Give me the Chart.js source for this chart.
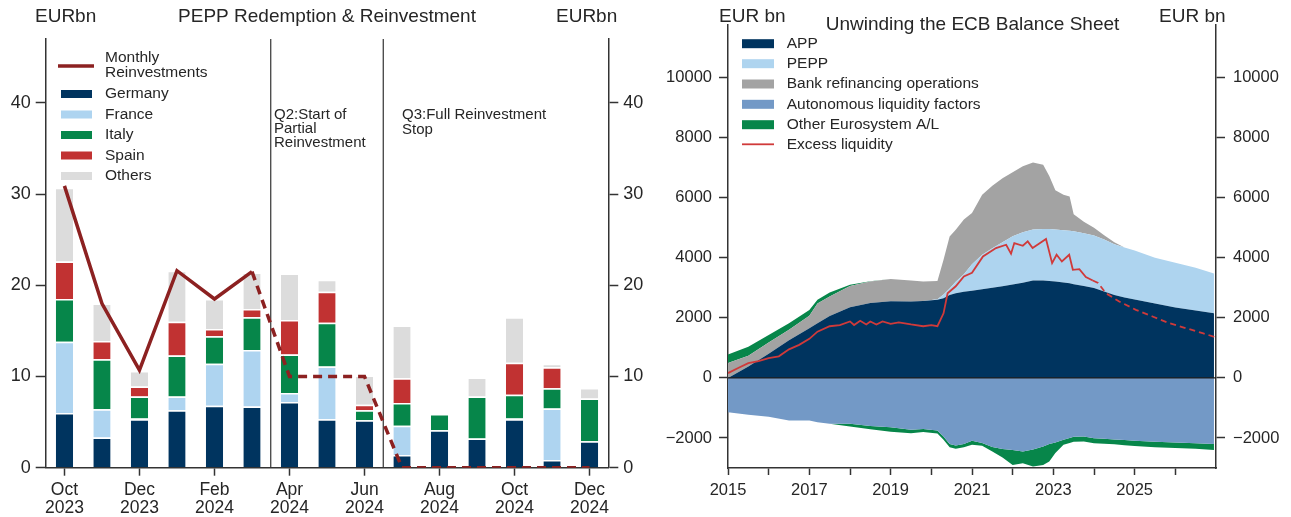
<!DOCTYPE html>
<html><head><meta charset="utf-8">
<script src="https://cdn.jsdelivr.net/npm/chart.js@4.4.1/dist/chart.umd.min.js"></script>
<style>
html,body{margin:0;padding:0;background:#fff;width:1291px;height:517px;overflow:hidden}
#l{position:absolute;left:0;top:0}
#r{position:absolute;left:645px;top:0}
</style></head><body>
<canvas id="l" width="645" height="517"></canvas>
<canvas id="r" width="646" height="517"></canvas>
<script>
// ---------- Left panel data: PEPP redemptions (EUR bn) ----------
const months = ['Oct 2023','Nov 2023','Dec 2023','Jan 2024','Feb 2024','Mar 2024','Apr 2024','May 2024','Jun 2024','Jul 2024','Aug 2024','Sep 2024','Oct 2024','Nov 2024','Dec 2024'];
const germany = [6.0,3.3,5.3,6.3,6.8,6.7,7.2,5.3,5.2,1.4,4.1,3.2,5.3,0.85,2.9];
const france  = [7.8,3.1,0.1,1.5,4.6,6.2,1.0,5.8,0.0,3.2,0.0,0.0,0.1,5.65,0.0];
const italy   = [4.7,5.5,2.4,4.5,3.0,3.6,4.2,4.8,1.1,2.5,1.8,4.6,2.6,2.2,4.7];
const spain   = [4.1,2.0,1.1,3.7,0.8,0.9,3.8,3.4,0.6,2.7,0.0,0.0,3.5,2.3,0.0];
const others  = [8.1,4.1,1.7,5.6,3.3,4.0,5.1,1.3,3.2,5.8,0.0,2.1,5.0,0.4,1.15];
const reinvest = [30.9,18.0,10.7,21.6,18.5,21.5,10,10,10,0,0,0,0,0,0];
const reinvestDashFrom = 5; // dashed (planned) from Mar 2024 onwards
const leftTicks = [0,10,20,30,40];

// ---------- Right panel data: ECB balance sheet (EUR bn) ----------
const bsDates = [2015.0,2015.5,2016.0,2016.5,2017.0,2017.2,2017.5,2018.0,2018.5,2019.0,2019.5,2019.8,2020.15,2020.3,2020.45,2020.6,2020.8,2021.0,2021.25,2021.5,2021.75,2022.0,2022.25,2022.5,2022.75,2022.9,2023.05,2023.25,2023.4,2023.5,2023.75,2024.0,2024.25,2024.5,2024.75,2025.0,2025.5,2026.0,2026.5,2026.95];
const app = [0,380,800,1250,1650,1820,2060,2350,2490,2550,2540,2560,2600,2650,2760,2820,2870,2900,2950,3000,3050,3110,3170,3240,3240,3230,3210,3180,3150,3120,3060,2990,2880,2760,2680,2610,2480,2340,2240,2150];
const pepp = [0,0,0,0,0,0,0,0,0,0,0,0,20,130,220,380,580,880,1150,1320,1470,1610,1680,1700,1720,1725,1730,1740,1750,1760,1760,1750,1730,1690,1660,1630,1520,1490,1430,1330];
const refi = [500,360,380,350,420,660,650,710,720,740,700,650,610,1150,1730,1730,1820,1710,2000,2080,2130,2130,2200,2230,2140,1765,1310,1180,1140,570,380,260,140,70,0,0,0,0,0,0];
const otherPos = [280,300,250,220,190,120,130,40,10,0,0,0,0,0,0,0,0,0,0,0,0,0,0,0,0,0,0,0,0,0,0,0,0,0,0,0,0,0,0,0];
const autonomous = [-1140,-1230,-1290,-1420,-1420,-1480,-1530,-1530,-1600,-1640,-1730,-1700,-1750,-1950,-2200,-2250,-2200,-2090,-2170,-2300,-2370,-2400,-2450,-2380,-2280,-2200,-2150,-2060,-2000,-1960,-1950,-2010,-2030,-2050,-2070,-2090,-2130,-2155,-2180,-2200];
const otherNeg = [0,0,0,0,0,0,0,-90,-110,-150,-110,-100,-100,-110,-110,-110,-110,-140,-90,-150,-280,-500,-390,-570,-620,-580,-350,-170,-170,-170,-170,-170,-160,-160,-170,-180,-180,-180,-180,-200];
const elDates = [2015.0,2015.25,2015.5,2015.75,2016.0,2016.25,2016.5,2016.75,2017.0,2017.2,2017.5,2017.75,2018.0,2018.1,2018.25,2018.4,2018.5,2018.65,2018.8,2019.0,2019.2,2019.5,2019.8,2020.0,2020.15,2020.3,2020.4,2020.6,2020.8,2021.0,2021.27,2021.59,2021.84,2021.96,2022.04,2022.25,2022.37,2022.49,2022.82,2022.97,2023.08,2023.21,2023.39,2023.48,2023.64,2023.8,2023.97,2024.1,2024.29,2024.62,2025.03,2025.44,2025.85,2026.26,2026.67,2026.99];
const excessLiq = [160,330,490,560,660,720,950,1100,1300,1540,1720,1760,1880,1760,1900,1780,1880,1780,1880,1800,1850,1780,1720,1760,1720,2150,2820,3050,3380,3500,4044,4322,4433,4133,4489,4400,4544,4322,4622,3822,4100,3877,4100,3600,3622,3355,3244,3160,2822,2544,2266,2044,1822,1655,1489,1355];
const elForecastFrom = 2023.95;
const rTicks = [-2000,0,2000,4000,6000,8000,10000];
const yearTicks = [2015,2016,2017,2018,2019,2020,2021,2022,2023,2024,2025,2026];
const yearLabels = [2015,2017,2019,2021,2023,2025];

// ---------- styling ----------
const FONT = "'Liberation Sans', Arial, Helvetica, sans-serif";
const TXT = '#262626';
const AX = '#333';
const C = {
  germany:'#00345f', france:'#aed4f0', italy:'#06864a', spain:'#c13232', others:'#dcdcdc', reinvest:'#8c2121',
  app:'#00345f', pepp:'#aed4ef', refi:'#a3a3a3', auton:'#7399c6', other:'#07864a', excess:'#d03a3a'
};
Chart.defaults.font.family = FONT;
Chart.defaults.color = TXT;

function txt(ctx, s, x, y, size, align) {
  ctx.save();
  ctx.font = size + 'px ' + FONT;
  ctx.fillStyle = TXT;
  ctx.textAlign = align || 'left';
  ctx.textBaseline = 'middle';
  ctx.fillText(s, x, y);
  ctx.restore();
}
const setTicks = list => (s => { s.ticks = list.map(v => ({value: v})); });

// ---------- left chart ----------
const leftOverlay = {
  id: 'leftOverlay',
  beforeDatasetsDraw(chart) {
    const {ctx, chartArea, scales:{x}} = chart;
    ctx.save();
    ctx.strokeStyle = AX; ctx.lineWidth = 1.2;
    [5.5, 8.5].forEach(v => {
      const px = (x.getPixelForValue(Math.floor(v)) + x.getPixelForValue(Math.ceil(v))) / 2;
      ctx.beginPath(); ctx.moveTo(px, chartArea.top); ctx.lineTo(px, chartArea.bottom); ctx.stroke();
    });
    ctx.restore();
  },
  afterDraw(chart) {
    const ctx = chart.ctx;
    txt(ctx, 'EURbn', 35, 17, 19);
    txt(ctx, 'PEPP Redemption & Reinvestment', 327, 17, 19, 'center');
    txt(ctx, 'EURbn', 556, 17, 19);
    txt(ctx, 'Q2:Start of', 274, 115, 15);
    txt(ctx, 'Partial', 274, 129, 15);
    txt(ctx, 'Reinvestment', 274, 143, 15);
    txt(ctx, 'Q3:Full Reinvestment', 402, 115, 15);
    txt(ctx, 'Stop', 402, 130, 15);
    ctx.save();
    ctx.strokeStyle = C.reinvest; ctx.lineWidth = 3.5;
    ctx.beginPath(); ctx.moveTo(58, 66); ctx.lineTo(94, 66); ctx.stroke();
    ctx.restore();
    txt(ctx, 'Monthly', 105, 58, 15.5);
    txt(ctx, 'Reinvestments', 105, 73, 15.5);
    const items = [['Germany',C.germany,94],['France',C.france,114.5],['Italy',C.italy,135],['Spain',C.spain,155.5],['Others',C.others,176]];
    items.forEach(([l,c,y]) => {
      ctx.fillStyle = c; ctx.fillRect(61, y-4, 31, 8);
      txt(ctx, l, 105, y, 15.5);
    });
  }
};

function barDs(label, data, color) {
  return {type:'bar', label, data, backgroundColor: color, borderColor:'#ffffff',
    borderWidth:{top:1.5,left:0,right:0,bottom:0}, borderSkipped:'start',
    barPercentage:0.46, categoryPercentage:1.0, stack:'bars', order:1};
}
const axisCommon = (tl) => ({
  grid:{display:true, drawOnChartArea:false, drawTicks:true, tickLength:tl, tickColor:AX, tickWidth:1.5},
  border:{display:true, color:AX, width:1.5}
});

new Chart(document.getElementById('l'), {
  type:'bar',
  data:{
    labels: months,
    datasets:[
      {type:'line', label:'Monthly Reinvestments', data: reinvest, borderColor:C.reinvest, backgroundColor:C.reinvest,
       borderWidth:3.5, pointRadius:0, fill:false, tension:0, order:-1, stack:'line',
       segment:{borderDash: c => c.p0DataIndex >= reinvestDashFrom ? [9,6] : undefined}},
      barDs('Germany', germany, C.germany),
      barDs('France', france, C.france),
      barDs('Italy', italy, C.italy),
      barDs('Spain', spain, C.spain),
      barDs('Others', others, C.others)
    ]
  },
  options:{
    responsive:false, animation:false, devicePixelRatio:1,
    layout:{padding:{top:39,left:0,right:0,bottom:0}},
    plugins:{legend:{display:false}, tooltip:{enabled:false}},
    scales:{
      x:{stacked:true, offset:true, ...axisCommon(8),
         grid:{display:true, offset:false, drawOnChartArea:false, tickLength:8, tickColor:AX, tickWidth:1.5},
         ticks:{autoSkip:false, maxRotation:0, minRotation:0, padding:6, color:TXT, font:{size:17.5, lineHeight:1.0},
                callback:(v,i) => i % 2 === 0 ? months[i].split(' ') : null},
         afterFit:s => { s.height = 49.3; }},
      y:{stacked:true, min:0, max:47, position:'left', ...axisCommon(10),
         afterBuildTicks: setTicks(leftTicks),
         ticks:{autoSkip:false, padding:5, color:TXT, font:{size:18}, callback:v => String(v)},
         afterFit:s => { s.width = 45.7; }},
      y2:{min:0, max:47, position:'right', ...axisCommon(10),
         afterBuildTicks: setTicks(leftTicks),
         ticks:{autoSkip:false, padding:5, color:TXT, font:{size:18}, callback:v => String(v)},
         afterFit:s => { s.width = 36.7; }}
    }
  },
  plugins:[leftOverlay]
});

// ---------- right chart ----------
const fmt = v => (v < 0 ? '\u2212' + Math.abs(v) : String(v));
const rightOverlay = {
  id:'rightOverlay',
  afterDatasetsDraw(chart) {
    const {ctx, chartArea, scales:{y}} = chart;
    const py = y.getPixelForValue(0);
    ctx.save(); ctx.strokeStyle = '#1e1e1e'; ctx.lineWidth = 1.2;
    ctx.beginPath(); ctx.moveTo(chartArea.left, py); ctx.lineTo(chartArea.right, py); ctx.stroke();
    ctx.restore();
  },
  afterDraw(chart) {
    const ctx = chart.ctx;
    txt(ctx, 'EUR bn', 74, 17, 19);
    txt(ctx, 'Unwinding the ECB Balance Sheet', 327.5, 25, 19, 'center');
    txt(ctx, 'EUR bn', 514, 17, 19);
    const items = [['APP',C.app,43.7],['PEPP',C.pepp,63.7],['Bank refinancing operations',C.refi,84],['Autonomous liquidity factors',C.auton,104.3],['Other Eurosystem A/L',C.other,124.7]];
    items.forEach(([l,c,yy]) => {
      ctx.fillStyle = c; ctx.fillRect(97, yy-4.5, 32, 9);
      txt(ctx, l, 141.7, yy, 15.5);
    });
    ctx.save(); ctx.strokeStyle = C.excess; ctx.lineWidth = 1.8;
    ctx.beginPath(); ctx.moveTo(97, 144.3); ctx.lineTo(129, 144.3); ctx.stroke(); ctx.restore();
    txt(ctx, 'Excess liquidity', 141.7, 144.3, 15.5);
  }
};
const pts = arr => bsDates.map((d,i) => ({x:d, y:arr[i]}));
const area = (label, arr, color, fill, stack) => ({label, data:pts(arr), backgroundColor:color, borderColor:color,
  borderWidth:0, pointRadius:0, tension:0, fill, stack});

new Chart(document.getElementById('r'), {
  type:'line',
  data:{
    datasets:[
      area('APP', app, C.app, 'origin', 'pos'),
      area('PEPP', pepp, C.pepp, '-1', 'pos'),
      area('Bank refinancing operations', refi, C.refi, '-1', 'pos'),
      area('Other Eurosystem A/L', otherPos, C.other, '-1', 'pos'),
      area('Autonomous liquidity factors', autonomous, C.auton, 'origin', 'neg'),
      area('Other Eurosystem A/L (liabilities)', otherNeg, C.other, '-1', 'neg'),
      {label:'Excess liquidity', data: elDates.map((d,i) => ({x:d, y:excessLiq[i]})), borderColor:C.excess,
       backgroundColor:C.excess, borderWidth:1.8, pointRadius:0, tension:0, fill:false, stack:'el', order:-1,
       segment:{borderDash: c => c.p0.parsed.x >= elForecastFrom ? [6,4] : undefined}}
    ]
  },
  options:{
    responsive:false, animation:false, devicePixelRatio:1,
    layout:{padding:{top:25,left:0,right:0,bottom:0}},
    plugins:{legend:{display:false}, tooltip:{enabled:false}},
    scales:{
      x:{type:'linear', min:2015, max:2027, ...axisCommon(7),
         afterBuildTicks: setTicks(yearTicks),
         ticks:{autoSkip:false, maxRotation:0, padding:6, color:TXT, font:{size:16.5},
                callback:v => yearLabels.includes(v) ? String(v) : ''},
         afterFit:s => { s.height = 49; }},
      y:{stacked:true, min:-3000, max:11750, position:'left', ...axisCommon(9),
         afterBuildTicks: setTicks(rTicks),
         ticks:{autoSkip:false, padding:7, color:TXT, font:{size:16.5}, callback:v => fmt(v)},
         afterFit:s => { s.width = 83; }},
      y2:{min:-3000, max:11750, position:'right', ...axisCommon(9),
         afterBuildTicks: setTicks(rTicks),
         ticks:{autoSkip:false, padding:8, color:TXT, font:{size:16.5}, callback:v => fmt(v)},
         afterFit:s => { s.width = 75; }}
    }
  },
  plugins:[rightOverlay]
});
</script></body></html>
